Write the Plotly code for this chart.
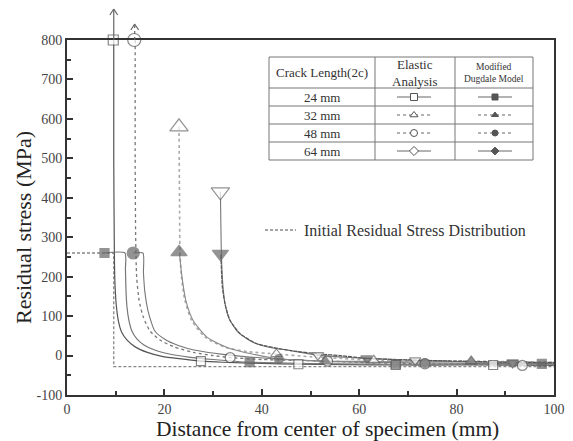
import plotly.graph_objects as go

# ---------------- data ----------------
# Elastic analysis curves
e24_x = [9.6, 9.6, 9.7, 9.8, 10.1, 10.6, 11.2, 12.3, 14.0, 16.5, 19.5, 23.0, 27.5, 32.0, 40.0, 47.5, 57.0, 67.5, 80.0, 87.5, 100.0]
e24_y = [800, 500, 300, 200, 130, 85, 60, 40, 22, 8, -2, -8, -14, -17, -20, -22, -23, -24, -24, -24, -25]
e32_x = [23.0, 23.1, 23.2, 23.5, 24.2, 25.6, 28.4, 32.5, 37.0, 43.0, 50.0, 56.0, 63.0, 72.0, 83.0, 100.0]
e32_y = [580, 400, 264, 200, 140, 89, 46, 21, 10, 4, -3, -7, -12, -13, -14, -17]
e48_x = [14.0, 14.0, 14.1, 14.3, 14.8, 15.6, 17.0, 19.0, 22.0, 26.0, 30.0, 33.5, 40.0, 53.5, 62.0, 73.5, 85.0, 93.5, 100.0]
e48_y = [800, 500, 300, 200, 140, 100, 63, 40, 22, 8, 0, -5, -10, -14, -18, -21, -23, -25, -25]
e64_x = [31.5, 31.6, 31.7, 32.0, 32.4, 33.3, 35.2, 38.5, 42.0, 45.7, 51.5, 58.0, 65.0, 71.5, 80.0, 91.5, 100.0]
e64_y = [415, 330, 258, 180, 135, 93, 58, 32, 20, 13, 1, -5, -9, -12, -15, -19, -20]

# Modified Dugdale model curves
d24_x = [7.7, 11.9, 12.0, 12.1, 12.3, 12.7, 13.3, 14.3, 15.8, 18.0, 21.0, 25.0, 30.0, 37.5, 45.0, 55.0, 67.5, 80.0, 97.5, 100.0]
d24_y = [260, 260, 220, 170, 125, 90, 63, 43, 27, 14, 4, -4, -10, -17, -19, -21, -22, -22, -21, -21]
d32_x = [23.1, 23.6, 24.4, 25.9, 28.8, 33.0, 38.0, 43.5, 53.0, 63.0, 73.0, 83.0, 100.0]
d32_y = [258, 200, 140, 89, 46, 20, 4, -8, -14, -15, -16, -16, -17]
d48_x = [13.6, 15.6, 15.7, 16.0, 16.6, 17.3, 18.0, 20.0, 23.0, 27.0, 32.0, 37.0, 43.5, 53.5, 63.0, 73.5, 85.0, 100.0]
d48_y = [260, 260, 210, 160, 115, 85, 63, 42, 25, 12, 3, -3, -9, -15, -17, -19, -20, -21]
d64_x = [31.6, 31.9, 32.5, 33.5, 35.6, 39.0, 45.7, 52.0, 56.0, 61.5, 70.0, 80.0, 91.5, 100.0]
d64_y = [255, 173, 128, 89, 55, 30, 13, 4, 0, -7, -11, -14, -17, -18]

# Marker positions along each curve
e24_mx = [9.5, 27.5, 47.5, 67.5, 87.5];  e24_my = [800, -14, -22, -24, -24]
e32_mx = [23.0, 43.0, 63.0, 83.0];       e32_my = [580, 4, -12, -14]
e48_mx = [13.8, 33.5, 53.5, 73.5, 93.5]; e48_my = [800, -5, -14, -21, -25]
e64_mx = [31.5, 51.5, 71.5, 91.5];       e64_my = [415, 1, -12, -19]
d24_mx = [7.7, 37.5, 67.5, 97.5];        d24_my = [260, -17, -22, -21]
d32_mx = [23.0, 53.0, 83.0];             d32_my = [262, -14, -16]
d48_mx = [13.6, 43.5, 73.5];             d48_my = [260, -9, -19]
d64_mx = [31.5, 61.5, 91.5];             d64_my = [258, -7, -17]

# Initial residual stress distribution
init_x = [0, 9.6, 9.6, 100]
init_y = [260, 260, -28, -28]

crack_labels = ["24 mm", "32 mm", "48 mm", "64 mm"]
x_ticks = [0, 20, 40, 60, 80, 100]
y_ticks = [-100, 0, 100, 200, 300, 400, 500, 600, 700, 800]
y_ticklabels = ["-100", "0", "100", "200", "300", "400", "500", "600", "700", "800"]

# ---------------- figure ----------------
FONT = "Liberation Serif"
fig = go.Figure()

fig.add_trace(go.Scatter(x=init_x, y=init_y, mode="lines",
                         line=dict(color="#888888", width=1.3, dash="3px,2px"), hoverinfo="skip"))

curves = [
    (e24_x, e24_y, "#555555", "solid", 1.2),
    (d24_x, d24_y, "#777777", "solid", 1.2),
    (e48_x, e48_y, "#777777", "dot", 1.3),
    (d48_x, d48_y, "#777777", "solid", 1.1),
    (e32_x, e32_y, "#aaaaaa", "dot", 1.6),
    (d32_x, d32_y, "#888888", "solid", 1.1),
    (e64_x, e64_y, "#777777", "solid", 1.1),
    (d64_x, d64_y, "#555555", "4px,1px", 1.2),
]
for cx, cy, col, dash, w in curves:
    fig.add_trace(go.Scatter(x=cx, y=cy, mode="lines", line_shape="spline",
                             line=dict(color=col, width=w, dash=dash, smoothing=0.6),
                             hoverinfo="skip"))

markers = [
    (e24_mx, e24_my, "square", "white", "#555555", [10, 9, 9, 9, 9]),
    (e48_mx, e48_my, "circle", "white", "#555555", [13, 10, 10, 10, 10]),
    (e32_mx, e32_my, "triangle-up", "white", "#666666", [16, 10, 10, 10]),
    (e64_mx, e64_my, "triangle-down", "white", "#666666", [16, 10, 10, 10]),
    (d24_mx, d24_my, "square", "#666666", "#666666", [9, 9, 9, 9]),
    (d48_mx, d48_my, "circle", "#666666", "#666666", [12, 9, 9]),
    (d32_mx, d32_my, "triangle-up", "#666666", "#666666", [14, 10, 10]),
    (d64_mx, d64_my, "triangle-down", "#666666", "#666666", [14, 10, 10]),
]
for mx, my, sym, fill, col, sz in markers:
    fig.add_trace(go.Scatter(x=mx, y=my, mode="markers", cliponaxis=False,
                             marker=dict(symbol=sym, size=sz, color=fill,
                                         line=dict(color=col, width=1.2)),
                             hoverinfo="skip"))

# ---------------- overlay axes in pixel units for the legend table ----------------
X0, X1, Y0, Y1 = 67, 554, 40, 395   # plot area in pixels
W, H = 573, 441

shapes = []
annotations = []

# arrows above the two clipped elastic curves
def arrow(xd, y_top_px, dash):
    top = (Y1 - y_top_px) / (Y1 - Y0)
    shapes.append(dict(type="line", xref="x", yref="paper", x0=xd, x1=xd, y0=1.0, y1=top,
                       line=dict(color="#666666", width=1.2, dash=dash)))
    head = 6 / (Y1 - Y0)
    shapes.append(dict(type="line", xref="x", yref="paper", x0=xd - 0.8, x1=xd, y0=top - head, y1=top,
                       line=dict(color="#666666", width=1.2)))
    shapes.append(dict(type="line", xref="x", yref="paper", x0=xd + 0.8, x1=xd, y0=top - head, y1=top,
                       line=dict(color="#666666", width=1.2)))

arrow(9.6, 9, "solid")
arrow(13.9, 24, "dot")

# table
tl, tr_, tt, tb = 269, 533, 57, 160
c1, c2 = 375, 455
rows = [88, 106, 124, 142]
shapes.append(dict(type="rect", xref="x2", yref="y2", x0=tl, x1=tr_, y0=tt, y1=tb,
                   line=dict(color="#777777", width=1), fillcolor="white", layer="below"))
for cx_ in (c1, c2):
    shapes.append(dict(type="line", xref="x2", yref="y2", x0=cx_, x1=cx_, y0=tt, y1=tb,
                       line=dict(color="#777777", width=1)))
for ry in rows:
    shapes.append(dict(type="line", xref="x2", yref="y2", x0=tl, x1=tr_, y0=ry, y1=ry,
                       line=dict(color="#777777", width=1)))

def txt(x, y, s, size, color="#333333", **kw):
    annotations.append(dict(xref="x2", yref="y2", x=x, y=y, text=s, showarrow=False,
                            font=dict(family=FONT, size=size, color=color), **kw))

def ptxt(px, py, s, size, color="#222222", **kw):
    annotations.append(dict(xref="paper", yref="paper",
                            x=(px - X0) / (X1 - X0), y=(Y1 - py) / (Y1 - Y0),
                            xanchor="center", yanchor="middle",
                            text=s, showarrow=False,
                            font=dict(family=FONT, size=size, color=color), **kw))

txt((tl + c1) / 2, 72.5, "Crack Length(2c)", 13)
txt((c1 + c2) / 2, 72.5, "Elastic<br>Analysis", 13)
txt((c2 + tr_) / 2, 72.5, "Modified<br>Dugdale Model", 9.5)
row_c = [97, 115, 133, 151]
for lab, yc in zip(crack_labels, row_c):
    txt((tl + c1) / 2, yc, lab, 13)

leg_e = [("square", "solid"), ("triangle-up", "dot"), ("circle", "dot"), ("diamond", "solid")]
leg_d = [("square", "solid"), ("triangle-up", "dot"), ("circle", "dot"), ("diamond", "solid")]
for (sym, dash), yc in zip(leg_e, row_c):
    fig.add_trace(go.Scatter(x=[397, 431], y=[yc, yc], xaxis="x2", yaxis="y2", mode="lines",
                             line=dict(color="#666666", width=1, dash=dash), hoverinfo="skip"))
    fig.add_trace(go.Scatter(x=[414], y=[yc], xaxis="x2", yaxis="y2", mode="markers",
                             marker=dict(symbol=sym, size=7, color="white", line=dict(color="#555555", width=1)),
                             hoverinfo="skip"))
for (sym, dash), yc in zip(leg_d, row_c):
    fig.add_trace(go.Scatter(x=[478, 512], y=[yc, yc], xaxis="x2", yaxis="y2", mode="lines",
                             line=dict(color="#666666", width=1, dash=dash), hoverinfo="skip"))
    fig.add_trace(go.Scatter(x=[495], y=[yc], xaxis="x2", yaxis="y2", mode="markers",
                             marker=dict(symbol=sym, size=6, color="#555555", line=dict(color="#555555", width=1)),
                             hoverinfo="skip"))

# initial distribution legend
shapes.append(dict(type="line", xref="x2", yref="y2", x0=265, x1=296, y0=230, y1=230,
                   line=dict(color="#888888", width=1.3, dash="3px,2px")))
txt(302, 230, "Initial Residual Stress Distribution", 16, xanchor="left")

# axis titles (placed explicitly, paper coordinates)
ptxt(327, 429, "Distance from center of specimen (mm)", 21.5)
ptxt(23, 228, "Residual stress (MPa)", 22, textangle=-90)

axis_common = dict(showline=True, linecolor="#333333", linewidth=2, mirror=True,
                   ticks="inside", tickcolor="#333333", tickwidth=1.5, ticklen=6,
                   showgrid=False, zeroline=False, automargin=False,
                   tickfont=dict(family=FONT, size=14, color="#444444"))

fig.update_layout(
    width=W, height=H,
    margin=dict(l=X0, r=W - X1, t=Y0, b=H - Y1),
    paper_bgcolor="white", plot_bgcolor="white",
    showlegend=False,
    xaxis=dict(range=[0, 100], tickvals=x_ticks,
               minor=dict(tickvals=[10, 30, 50, 70, 90], ticks="inside", ticklen=4, tickcolor="#333333"),
               **axis_common),
    yaxis=dict(range=[-100, 800], tickvals=y_ticks, ticktext=y_ticklabels,
               minor=dict(tickvals=list(range(-50, 800, 100)), ticks="inside", ticklen=4, tickcolor="#333333"),
               **axis_common),
    xaxis2=dict(overlaying="x", range=[X0, X1], visible=False, fixedrange=True),
    yaxis2=dict(overlaying="y", range=[Y1, Y0], visible=False, fixedrange=True),
    shapes=shapes,
    annotations=annotations,
)

fig.write_html("out.html", config={"displayModeBar": False},
               post_script="document.body.style.margin='0';document.body.style.overflow='hidden';")
